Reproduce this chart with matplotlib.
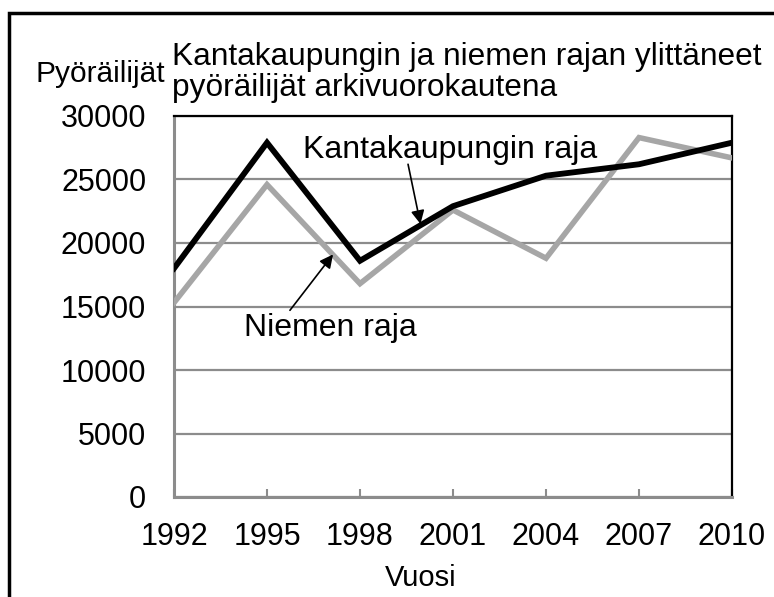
import matplotlib.pyplot as plt
from matplotlib.patches import Rectangle

plt.rcParams['font.family'] = ['Liberation Sans', 'DejaVu Sans']

years = [1992, 1995, 1998, 2001, 2004, 2007, 2010]
kantakaupunki = [18000, 27900, 18600, 22900, 25300, 26200, 27900]
niemi = [15300, 24600, 16800, 22600, 18800, 28300, 26700]
yticks = [0, 5000, 10000, 15000, 20000, 25000, 30000]

fig = plt.figure(figsize=(7.74, 5.97), dpi=100)
ax = fig.add_axes([174/774, 1 - 497/597, (732-174)/774, (497-116)/597])

ax.plot(years, niemi, color='#a6a6a6', lw=4, solid_joinstyle='miter', zorder=3)
ax.plot(years, kantakaupunki, color='black', lw=4.2, solid_joinstyle='miter', zorder=4)

ax.set_xlim(1992, 2010)
ax.set_ylim(0, 30000)
ax.set_xticks(years)
ax.set_yticks(yticks)
ax.yaxis.grid(True, color='#8c8c8c', lw=1.6)
ax.set_axisbelow(True)

for s in ['left', 'bottom']:
    ax.spines[s].set_color('#8c8c8c')
    ax.spines[s].set_linewidth(2.2)
for s in ['top', 'right']:
    ax.spines[s].set_color('black')
    ax.spines[s].set_linewidth(1.6)

ax.tick_params(axis='x', direction='in', length=6, width=1.5, color='#8c8c8c',
               labelsize=22, pad=18)
ax.tick_params(axis='y', length=0, labelsize=22, pad=20)

# annotations
ax.text(2000.9, 27300, 'Kantakaupungin raja', fontsize=23, ha='center', va='center')
ax.annotate('', xy=(1999.95, 21500), xytext=(1999.55, 26200),
            arrowprops=dict(arrowstyle='-|>', color='black', lw=1.2,
                            mutation_scale=20, shrinkA=0, shrinkB=0))
ax.text(1997.06, 13300, 'Niemen raja', fontsize=23, ha='center', va='center')
ax.annotate('', xy=(1997.13, 19100), xytext=(1995.74, 14700),
            arrowprops=dict(arrowstyle='-|>', color='black', lw=1.2,
                            mutation_scale=20, shrinkA=0, shrinkB=0))

# titles and labels
fig.text(172/774, 1 - 65/597, 'Kantakaupungin ja niemen rajan ylittäneet',
         fontsize=22.8, ha='left', va='baseline')
fig.text(172/774, 1 - 96/597, 'pyöräilijät arkivuorokautena',
         fontsize=22.8, ha='left', va='baseline')
fig.text(35/774, 1 - 82/597, 'Pyöräilijät', fontsize=21.5, ha='left', va='baseline')
fig.text(421/774, 1 - 578/597, 'Vuosi', fontsize=21, ha='center', va='center')

# outer frame
fig.add_artist(Rectangle((9/774, -0.1), 1.2, 1.1 - 13/597, transform=fig.transFigure,
                         fill=False, ec='black', lw=2.5, clip_on=False))

fig.savefig('out.png', dpi=100)
